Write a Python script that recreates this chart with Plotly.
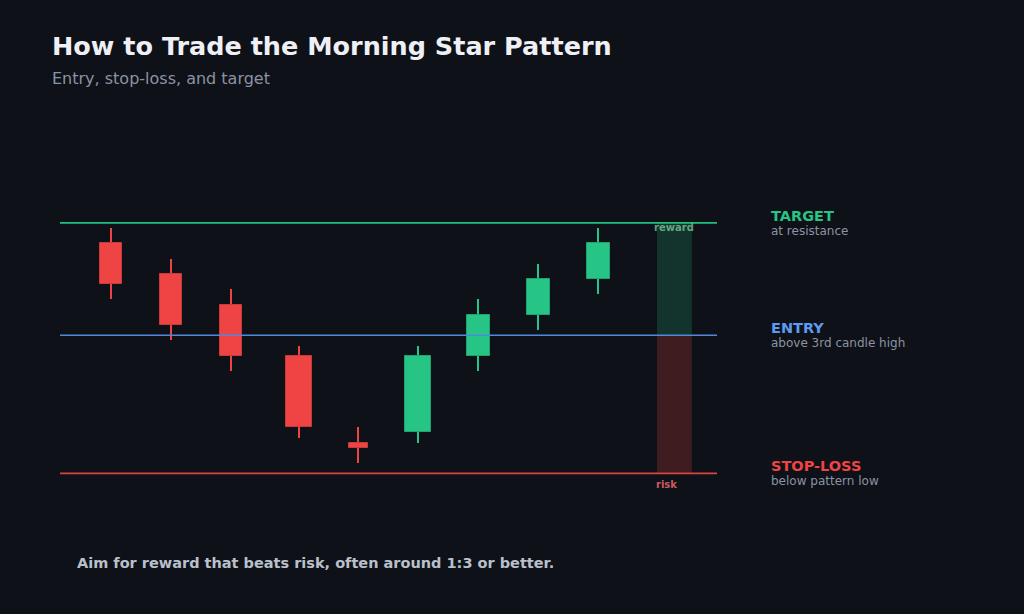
import plotly.graph_objects as go

# Candle data (price units)
x_pos = [0, 1, 2, 3.13, 4.12, 5.12, 6.12, 7.12, 8.12]
open_ = [100, 97, 94, 89, 80.5, 81.5, 89, 93, 96.5]
close = [96, 92, 89, 82, 80, 89, 93, 96.5, 100]
high = [101.5, 98.5, 95.5, 90, 82, 90, 94.5, 98, 101.5]
low = [94.5, 90.5, 87.5, 81, 78.5, 80.5, 87.5, 91.5, 95]
body_w = [0.38, 0.38, 0.38, 0.44, 0.32, 0.44, 0.38, 0.38, 0.38]

# Trade levels
target = 102
entry = 91
stop = 77.5
zone_x = [9.1, 9.68]

level_names = ["TARGET", "ENTRY", "STOP-LOSS"]
level_notes = ["at resistance", "above 3rd candle high", "below pattern low"]
level_vals = [target, entry, stop]

BG = "#0e1117"
GREEN = "#26c485"
RED = "#ef4444"
BLUE = "#5b9bf0"
MUTED = "#8b93a3"

up = [c >= o for o, c in zip(open_, close)]
cols = [GREEN if u else RED for u in up]
edge = ["#1fa470" if u else "#c93a3d" for u in up]

fig = go.Figure()

# wicks
fig.add_trace(go.Bar(
    x=x_pos, y=[h - l for h, l in zip(high, low)], base=low,
    width=0.035, marker=dict(color=cols, line=dict(width=0)),
    hoverinfo="skip", showlegend=False,
))
# bodies
fig.add_trace(go.Bar(
    x=x_pos, y=[abs(c - o) for o, c in zip(open_, close)],
    base=[min(o, c) for o, c in zip(open_, close)],
    width=body_w, marker=dict(color=cols, line=dict(color=edge, width=1)),
    showlegend=False,
))

# reward / risk zones
fig.add_shape(type="rect", x0=zone_x[0], x1=zone_x[1], y0=entry, y1=target,
              fillcolor="rgba(38,196,133,0.2)", line_width=0, layer="below")
fig.add_shape(type="rect", x0=zone_x[0], x1=zone_x[1], y0=stop, y1=entry,
              fillcolor="rgba(239,68,68,0.22)", line_width=0, layer="below")

line_cols = ["#22bf7c", "#5089dc", "#d94343"]
label_cols = [GREEN, BLUE, RED]
for val, lc in zip(level_vals, line_cols):
    fig.add_shape(type="line", xref="paper", x0=0, x1=1, y0=val, y1=val,
                  line=dict(color=lc, width=1.7), layer="above")

for name, note, val, c in zip(level_names, level_notes, level_vals, label_cols):
    fig.add_annotation(xref="paper", x=1.079, y=val, xanchor="left", yanchor="middle",
                       yshift=7, text="<b>%s</b>" % name, showarrow=False,
                       font=dict(size=14.5, color=c))
    fig.add_annotation(xref="paper", x=1.079, y=val, xanchor="left", yanchor="middle",
                       yshift=-8, text=note, showarrow=False,
                       font=dict(size=12, color=MUTED))

fig.add_annotation(x=sum(zone_x) / 2, y=target, yshift=-5, text="<b>reward</b>",
                   showarrow=False, font=dict(size=10, color="rgba(120,200,150,0.8)"))
fig.add_annotation(x=zone_x[0] + 0.15, y=stop, yshift=-11, text="<b>risk</b>",
                   showarrow=False, font=dict(size=10, color="rgba(230,100,105,0.9)"))

fig.add_annotation(xref="paper", yref="paper", x=-0.0152, y=1.2322, xanchor="left",
                   yanchor="middle", text="<b>How to Trade the Morning Star Pattern</b>",
                   showarrow=False, font=dict(size=25.5, color="#eef0f6"))
fig.add_annotation(xref="paper", yref="paper", x=-0.0152, y=1.1540, xanchor="left",
                   yanchor="middle", text="Entry, stop-loss, and target",
                   showarrow=False, font=dict(size=16, color=MUTED))
fig.add_annotation(xref="paper", yref="paper", x=0.0228, y=-0.0313, xanchor="left",
                   yanchor="middle",
                   text="<b>Aim for reward that beats risk, often around 1:3 or better.</b>",
                   showarrow=False, font=dict(size=14.5, color="#b9c0cc"))

fig.update_layout(
    width=1024, height=614,
    paper_bgcolor=BG, plot_bgcolor=BG,
    font=dict(family="DejaVu Sans", color="#eef0f6"),
    margin=dict(l=60, r=307, t=141, b=63.8),
    barmode="overlay", bargap=0,
    showlegend=False,
    hovermode=False,
    xaxis=dict(range=[-0.85, 10.1], visible=False, fixedrange=True),
    yaxis=dict(range=[70, 110], visible=False, fixedrange=True),
)

# drop the page margin so the figure sits at the window's corner
fig.write_html("out.html", config={"displayModeBar": False},
               post_script="document.body.style.margin='0';")
